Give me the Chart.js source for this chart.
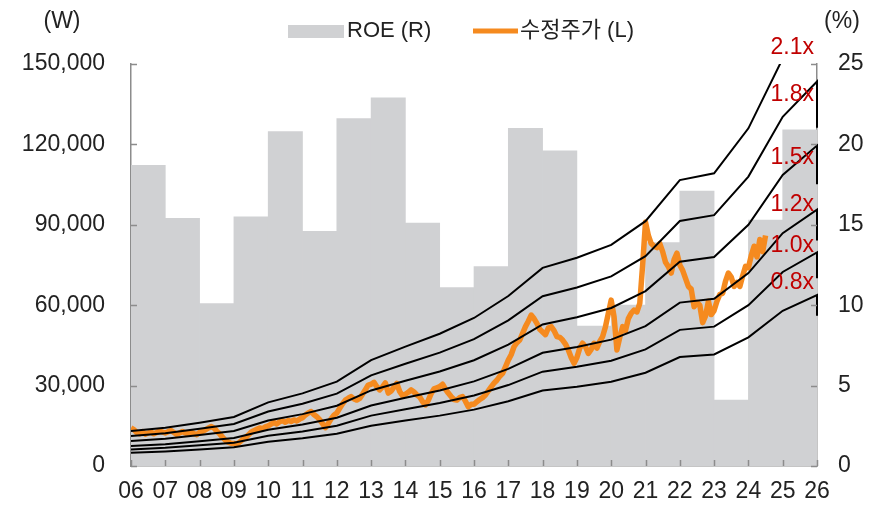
<!DOCTYPE html>
<html>
<head>
<meta charset="utf-8">
<script src="https://cdn.jsdelivr.net/npm/chart.js@4.4.1/dist/chart.umd.min.js"></script>
<style>
  html, body { margin: 0; padding: 0; background: #fff; }
  #wrap { width: 875px; height: 508px; }
</style>
</head>
<body>
<div id="wrap"><canvas id="chart" width="875" height="508"></canvas></div>
<script>
// Year ticks on the x axis (06 ~ 26)
const tickYears = [2006, 2007, 2008, 2009, 2010, 2011, 2012, 2013, 2014, 2015, 2016,
  2017, 2018, 2019, 2020, 2021, 2022, 2023, 2024, 2025, 2026];

// ROE (%), one bar per year, right axis
const roeYears = [2006, 2007, 2008, 2009, 2010, 2011, 2012, 2013, 2014, 2015,
  2016, 2017, 2018, 2019, 2020, 2021, 2022, 2023, 2024, 2025];
const roe = [18.7, 15.4, 10.1, 15.5, 20.8, 14.6, 21.6, 22.9, 15.1, 11.1,
  12.4, 21.0, 19.6, 8.7, 10.0, 13.9, 17.1, 4.1, 15.3, 20.9];

// PBR band lines (won), points at year starts plus the last step down
const bandYears = [2006, 2007, 2008, 2009, 2010, 2011, 2012, 2013, 2014, 2015, 2016,
  2017, 2018, 2019, 2020, 2021, 2022, 2023, 2024, 2025, 2026, 2026];
const band21 = [13020, 14280, 16170, 18270, 23730, 27090, 31500, 39480, 44520, 49350, 55230,
  63420, 73920, 77700, 82530, 91350, 106680, 109200, 126000, 152040, 167370, 151000];
const band18 = [11160, 12240, 13860, 15660, 20340, 23220, 27000, 33840, 38160, 42300, 47340,
  54360, 63360, 66600, 70740, 78300, 91440, 93600, 108000, 130320, 143460, 126180];
const band15 = [9300, 10200, 11550, 13050, 16950, 19350, 22500, 28200, 31800, 35250, 39450,
  45300, 52800, 55500, 58950, 65250, 76200, 78000, 90000, 108600, 119550, 105150];
const band12 = [7440, 8160, 9240, 10440, 13560, 15480, 18000, 22560, 25440, 28200, 31560,
  36240, 42240, 44400, 47160, 52200, 60960, 62400, 72000, 86880, 95640, 84120];
const band10 = [6200, 6800, 7700, 8700, 11300, 12900, 15000, 18800, 21200, 23500, 26300,
  30200, 35200, 37000, 39300, 43500, 50800, 52000, 60000, 72400, 79700, 70100];
const band08 = [4960, 5440, 6160, 6960, 9040, 10320, 12000, 15040, 16960, 18800, 21040,
  24160, 28160, 29600, 31440, 34800, 40640, 41600, 48000, 57920, 63760, 56080];
const bandNames = ["2.1x", "1.8x", "1.5x", "1.2x", "1.0x", "0.8x"];

// Adjusted share price (won), monthly from Jan 2006
const priceStart = 2006;
const price = [
  14200, 13600, 12500, 12000, 12800, 11900, 12300, 12700, 12000, 12500, 13100, 12700,
  12300, 12800, 13200, 12500, 11800, 12300, 12900, 12300, 11900, 12600, 12100, 11700,
  12600, 12900, 13500, 14100, 14700, 14200, 13000, 12000, 10800, 9600, 8900, 8500,
  8400, 8100, 8900, 9800, 10600, 11500, 12600, 13200, 13700, 14200, 13900, 14600,
  15000, 15600, 16200, 15700, 16500, 16900, 16300, 17000, 16600, 17200, 16800, 17500,
  18000, 19000, 19800, 20300, 19200, 18400, 17300, 15800, 14300, 15800, 17600, 19000,
  19800, 21500, 23200, 24600, 25300, 25900, 25000, 24600, 25200, 26800, 28500, 30200,
  30500, 31200, 29600, 28400, 29500, 31000, 27200, 28000, 29400, 30800, 27800, 26200,
  26800, 27500, 28400, 27600, 26500, 25800, 24000, 22800, 24500, 27000, 28800, 29200,
  29600, 30500, 28700, 27200, 25900, 24800, 24600, 25500, 25900, 24200, 22100, 23000,
  23000, 24000, 24800, 25500, 26500, 28000, 29500, 30900, 32000, 33500, 34600, 37000,
  39500, 41500, 44500, 46000, 47000, 49500, 52000, 54000, 56300, 55000, 53200, 51000,
  50000, 49000, 51500, 52000, 50500, 48300, 48000, 47000, 45500, 43300, 40500, 38300,
  40500, 44000, 45800, 44500, 42000, 43500, 45800, 44000, 46500, 48300, 52000, 57000,
  61900, 55700, 43300, 48000, 52000, 50500, 55000, 57000, 58200, 57500, 60700, 75000,
  91000, 86000, 83000, 82000, 81500, 83000, 80000, 76000, 74400, 72000, 77000, 79400,
  75000, 73000, 70000, 67000, 66000, 59400, 61000, 60000, 53500, 56000, 61500, 56500,
  58000, 61500, 64000, 64500, 69000, 72000, 70500, 67000, 68500, 67000, 71000, 74500,
  74000, 78500, 82000, 78000, 84500, 80000, 86000
];

const FONT = "'Liberation Sans', Arial, 'Noto Sans CJK KR', sans-serif";
const GRAY_BAR = "#d0d1d3";
const ORANGE = "#f58a1f";
const AXIS = "#8c8c8c";
const RED = "#c00000";

const bandSets = [band21, band18, band15, band12, band10, band08].map((arr, i) => ({
  type: "line",
  label: bandNames[i],
  data: arr.map((v, j) => ({ x: bandYears[j], y: v })),
  borderColor: "#000",
  borderWidth: 2,
  pointRadius: 0,
  tension: 0,
  yAxisID: "y",
  order: 1,
  clip: { left: 0, top: 0, right: 3, bottom: 0 },
}));

// Inward tick marks, legend, units and band labels
const decor = {
  id: "decor",
  afterDatasetsDraw(chart) {
    const ctx = chart.ctx;
    const { x, y, y2 } = chart.scales;
    const a = chart.chartArea;
    ctx.save();
    ctx.strokeStyle = AXIS;
    ctx.lineWidth = 1.5;
    ctx.beginPath();
    tickYears.forEach((t) => {
      const px = Math.round(x.getPixelForValue(t)) + 0.5;
      ctx.moveTo(px, a.bottom);
      ctx.lineTo(px, a.bottom - 6);
    });
    y.ticks.forEach((t) => {
      const py = Math.round(y.getPixelForValue(t.value)) + 0.5;
      ctx.moveTo(a.left, py);
      ctx.lineTo(a.left + 6, py);
    });
    y2.ticks.forEach((t) => {
      const py = Math.round(y2.getPixelForValue(t.value)) + 0.5;
      ctx.moveTo(a.right, py);
      ctx.lineTo(a.right - 6, py);
    });
    ctx.stroke();

    // band labels
    const labelY = [48, 95, 158, 205, 246, 283];
    ctx.fillStyle = RED;
    ctx.font = "23px " + FONT;
    ctx.textAlign = "right";
    ctx.textBaseline = "middle";
    bandNames.forEach((n, i) => ctx.fillText(n, a.right - 3, labelY[i]));

    // units
    ctx.fillStyle = "#222";
    ctx.textAlign = "center";
    ctx.fillText("(W)", 62, 22);
    ctx.fillText("(%)", 842, 22);

    // legend
    ctx.font = "22px " + FONT;
    ctx.textAlign = "left";
    ctx.fillStyle = GRAY_BAR;
    ctx.fillRect(288, 25, 56, 13);
    ctx.fillStyle = "#222";
    ctx.fillText("ROE (R)", 347, 31);
    ctx.strokeStyle = ORANGE;
    ctx.lineWidth = 5;
    ctx.beginPath();
    ctx.moveTo(473, 31);
    ctx.lineTo(518, 31);
    ctx.stroke();
    ctx.fillStyle = "#222";
    ctx.fillText("수정주가 (L)", 520, 31);
    ctx.restore();
  },
};

new Chart(document.getElementById("chart"), {
  type: "line",
  data: {
    datasets: [
      {
        type: "bar",
        label: "ROE (R)",
        data: roe.map((v, i) => ({ x: roeYears[i] + 0.5, y: v })),
        backgroundColor: GRAY_BAR,
        borderWidth: 0,
        barPercentage: 1,
        categoryPercentage: 1,
        yAxisID: "y2",
        order: 3,
      },
      {
        type: "line",
        label: "수정주가 (L)",
        data: price.map((v, i) => ({ x: priceStart + i / 12, y: v })),
        borderColor: ORANGE,
        borderWidth: 5.5,
        borderJoinStyle: "round",
        pointRadius: 0,
        tension: 0,
        yAxisID: "y",
        order: 2,
      },
      ...bandSets,
    ],
  },
  options: {
    responsive: false,
    animation: false,
    layout: { padding: { top: 64, left: 0, right: 0, bottom: 0 } },
    plugins: { legend: { display: false }, tooltip: { enabled: false } },
    scales: {
      x: {
        type: "linear",
        min: 2006,
        max: 2026,
        offset: false,
        grid: { display: false, drawTicks: false },
        border: { display: true, color: AXIS, width: 1.5 },
        afterBuildTicks: (s) => { s.ticks = tickYears.map((v) => ({ value: v })); },
        afterFit: (s) => { s.height = 42; },
        ticks: {
          autoSkip: false,
          maxRotation: 0,
          padding: 12,
          color: "#222",
          font: { family: FONT, size: 23 },
          callback: (v) => String(v).slice(2),
        },
      },
      y: {
        position: "left",
        min: 0,
        max: 150000,
        grid: { display: false, drawTicks: false },
        border: { display: true, color: AXIS, width: 1.5 },
        afterFit: (s) => { s.width = 131; },
        ticks: {
          stepSize: 30000,
          padding: 26,
          color: "#222",
          font: { family: FONT, size: 23 },
          callback: (v) => v.toLocaleString("en-US"),
        },
      },
      y2: {
        position: "right",
        min: 0,
        max: 25,
        grid: { display: false, drawTicks: false },
        border: { display: true, color: AXIS, width: 1.5 },
        afterFit: (s) => { s.width = 58; },
        ticks: {
          stepSize: 5,
          padding: 21,
          color: "#222",
          font: { family: FONT, size: 23 },
        },
      },
    },
  },
  plugins: [decor],
});
</script>
</body>
</html>
